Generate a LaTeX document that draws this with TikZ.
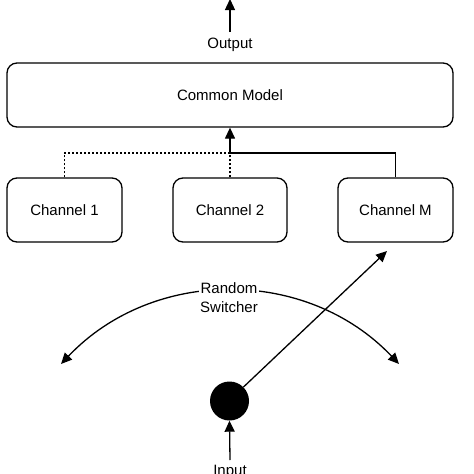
\documentclass[tikz,border=0pt]{standalone}
\usepackage{fontspec}
\setmainfont{Liberation Sans}
\usetikzlibrary{arrows.meta}
\begin{document}
\begin{tikzpicture}[x=1pt,y=-1pt,
  every node/.style={font=\fontsize{15}{19}\selectfont},
  box/.style={draw,line width=1.3pt,rounded corners=10pt,inner sep=0pt},
  conn/.style={line width=1.3pt},
  arr/.style={conn,-{Triangle[length=11pt,width=10pt]}},
  dots/.style={line width=1.3pt,dash pattern=on 2pt off 2pt}]
\useasboundingbox[fill=white] (0,0) rectangle (474,474);
\node[box,minimum width=446pt,minimum height=64pt] (cm) at (230,95) {Common Model};
\node[box,minimum width=115pt,minimum height=64pt] (ch1) at (64.5,210) {Channel 1};
\node[box,minimum width=114pt,minimum height=64pt] (ch2) at (230,210) {Channel 2};
\node[box,minimum width=115pt,minimum height=64pt] (chM) at (395.5,210) {Channel M};
\node (outlbl) at (230,45) {Output};
\coordinate (outtop) at (230,-1);
\coordinate (outbot) at (230,32);
\draw[arr] (outbot) -- (outtop);
\coordinate (j) at (230,153);
\draw[dots] (ch1.north) |- (j);
\draw[dots] (ch2.north) -- (j);
\draw[conn] (chM.north) |- (j);
\draw[arr] (j) -- (cm.south);
% switcher
\node[circle,fill=black,minimum size=39pt,inner sep=0pt] (sw) at (229.5,401) {};
\coordinate (swtip) at (387,251);
\draw[arr] (sw.45) -- (swtip);
\coordinate (al) at (61,364);
\coordinate (ar) at (399,364);
\draw[conn,{Triangle[length=11pt,width=10pt]}-{Triangle[length=11pt,width=10pt]}] (al) .. controls (153,267) and (307,267) .. (ar);
\node[fill=white,align=center,inner sep=1pt] (rs) at (229,298) {Random\\Switcher};
\coordinate (inbot) at (230,460);
\draw[arr] (inbot) -- (sw.south);
\node[anchor=north] (inlbl) at (230,462) {Input};
\end{tikzpicture}
\end{document}
